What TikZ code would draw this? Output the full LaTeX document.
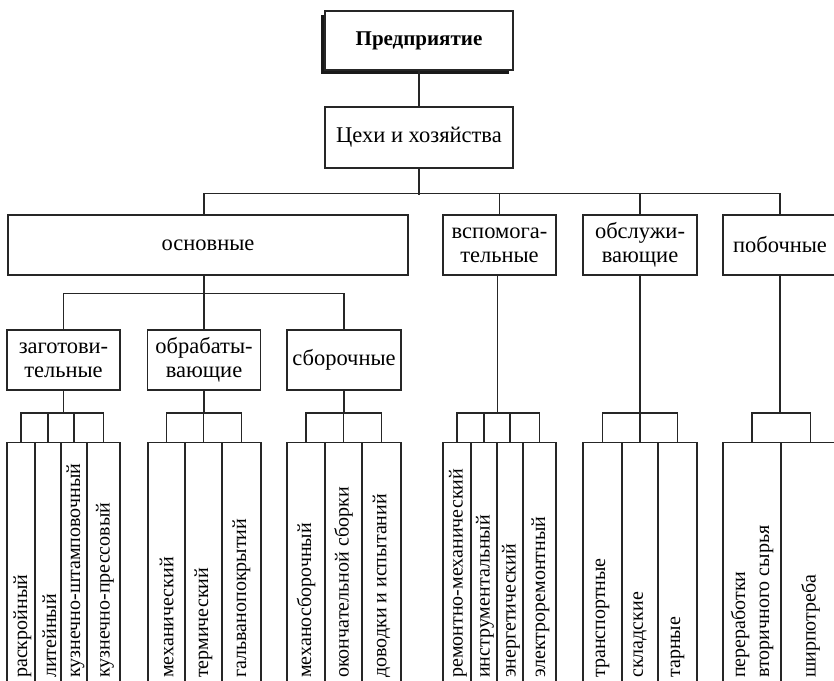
\documentclass[tikz,border=0pt]{standalone}
\usepackage{fontspec}
\setmainfont{Liberation Serif}
\usetikzlibrary{shadows}
\begin{document}
\begin{tikzpicture}[x=1pt,y=-1pt,
  ln/.style={line width=1.1pt, draw=black!85},
  box/.style={ln, fill=white, inner sep=0pt, align=center, minimum height=60pt, font=\fontsize{22.5}{24}\selectfont},
  leaf/.style={ln, inner sep=0pt, minimum height=270pt, anchor=north},
  leaftxt/.style={rotate=90, anchor=west, inner sep=0pt, align=left, font=\fontsize{20}{24}\selectfont}]
\useasboundingbox (0,0) rectangle (834,680);
\clip (0,0) rectangle (834,680);

% top
\node[box, minimum width=188pt, minimum height=59pt, font=\bfseries\fontsize{21}{24}\selectfont,
  drop shadow={shadow xshift=-4pt, shadow yshift=-4pt, fill=black, opacity=0.9}] (pred) at (419,40.5) {Предприятие};
\node[box, minimum width=188pt, minimum height=61pt] (ceh) at (419,137.5) {Цехи и хозяйства};

% level 1
\node[box, minimum width=400pt] (osn) at (208,245) {основные};
\node[box, minimum width=113pt] (vsp) at (499.5,245) {вспомога-\\тельные};
\node[box, minimum width=114pt] (obs) at (640,245) {обслужи-\\вающие};
\node[box, minimum width=114pt] (pob) at (780,245) {побочные};

% level 2
\node[box, minimum width=113pt] (zag) at (63.5,360) {заготови-\\тельные};
\node[box, minimum width=113pt] (obr) at (204,360) {обрабаты-\\вающие};
\node[box, minimum width=114pt] (sbo) at (344,360) {сборочные};

% leaves
\node[leaf, minimum width=28pt] (z1) at (21,442) {};
\node[leaf, minimum width=26pt] (z2) at (48,442) {};
\node[leaf, minimum width=26pt] (z3) at (74,442) {};
\node[leaf, minimum width=33pt] (z4) at (103.5,442) {};

\node[leaf, minimum width=37pt] (o1) at (166.5,442) {};
\node[leaf, minimum width=37pt] (o2) at (203.5,442) {};
\node[leaf, minimum width=39pt] (o3) at (241.5,442) {};

\node[leaf, minimum width=38pt] (s1) at (306,442) {};
\node[leaf, minimum width=37pt] (s2) at (343.5,442) {};
\node[leaf, minimum width=39pt] (s3) at (381.5,442) {};

\node[leaf, minimum width=28pt] (v1) at (457,442) {};
\node[leaf, minimum width=26pt] (v2) at (484,442) {};
\node[leaf, minimum width=26pt] (v3) at (510,442) {};
\node[leaf, minimum width=33pt] (v4) at (539.5,442) {};

\node[leaf, minimum width=39pt] (b1) at (602.5,442) {};
\node[leaf, minimum width=36pt] (b2) at (640,442) {};
\node[leaf, minimum width=39pt] (b3) at (677.5,442) {};

\node[leaf, minimum width=58pt] (p1) at (752,442) {};
\node[leaf, minimum width=59pt] (p2) at (810.5,442) {};

% leaf texts
\node[leaftxt] (tz1) at ([xshift=1.5pt]z1.north |- 0,678) {раскройный};
\node[leaftxt] (tz2) at ([xshift=1.5pt]z2.north |- 0,678) {литейный};
\node[leaftxt] (tz3) at ([xshift=1.5pt]z3.north |- 0,678) {кузнечно-штамповочный};
\node[leaftxt] (tz4) at ([xshift=1.5pt]z4.north |- 0,678) {кузнечно-прессовый};
\node[leaftxt] (to1) at (o1.north |- 0,678) {механический};
\node[leaftxt] (to2) at (o2.north |- 0,678) {термический};
\node[leaftxt] (to3) at (o3.north |- 0,678) {гальванопокрытий};
\node[leaftxt] (ts1) at (s1.north |- 0,678) {механосборочный};
\node[leaftxt] (ts2) at (s2.north |- 0,678) {окончательной сборки};
\node[leaftxt] (ts3) at (s3.north |- 0,678) {доводки и испытаний};
\node[leaftxt] (tv1) at ([xshift=1pt]v1.north |- 0,678) {ремонтно-механический};
\node[leaftxt] (tv2) at ([xshift=1pt]v2.north |- 0,678) {инструментальный};
\node[leaftxt] (tv3) at ([xshift=1pt]v3.north |- 0,678) {энергетический};
\node[leaftxt] (tv4) at ([xshift=1pt]v4.north |- 0,678) {электроремонтный};
\node[leaftxt] (tb1) at (b1.north |- 0,678) {транспортные};
\node[leaftxt] (tb2) at (b2.north |- 0,678) {складские};
\node[leaftxt] (tb3) at (b3.north |- 0,678) {тарные};
\node[leaftxt] (tp1) at (p1.north |- 0,678) {переработки\\вторичного сырья};
\node[leaftxt] (tp2) at (p2.north |- 0,678) {ширпотреба};

% connectors
\draw[ln] (pred) -- (ceh);
\draw[ln] (ceh.south) -- ++(0,26);
\draw[ln] ([xshift=-4pt]osn.north) -- ++(0,-21) -| (pob.north);
\draw[ln] (vsp.north) -- ++(0,-21);
\draw[ln] (obs.north) -- ++(0,-21);

\draw[ln] ([xshift=-4pt]osn.south) -- ++(0,19);
\draw[ln] (zag.north) -- ++(0,-36) -| (sbo.north);
\draw[ln] (obr.north) -- ++(0,-36);

% stubs
\draw[ln] (zag.south) -- ++(0,23);
\draw[ln] (z1.north) -- ++(0,-29) -| (z4.north);
\draw[ln] (z2.north) -- ++(0,-29);
\draw[ln] (z3.north) -- ++(0,-29);

\draw[ln] (obr.south) -- ++(0,23);
\draw[ln] (o1.north) -- ++(0,-29) -| (o3.north);
\draw[ln] (o2.north) -- ++(0,-29);

\draw[ln] (sbo.south) -- ++(0,23);
\draw[ln] (s1.north) -- ++(0,-29) -| (s3.north);
\draw[ln] (s2.north) -- ++(0,-29);

\draw[ln] ([xshift=-2pt]vsp.south) -- ++(0,138);
\draw[ln] (v1.north) -- ++(0,-29) -| (v4.north);
\draw[ln] (v2.north) -- ++(0,-29);
\draw[ln] (v3.north) -- ++(0,-29);

\draw[ln] (obs.south) -- ++(0,138);
\draw[ln] (b1.north) -- ++(0,-29) -| (b3.north);
\draw[ln] (b2.north) -- ++(0,-29);

\draw[ln] (pob.south) -- ++(0,138);
\draw[ln] (p1.north) -- ++(0,-29) -| (p2.north);
\end{tikzpicture}
\end{document}
